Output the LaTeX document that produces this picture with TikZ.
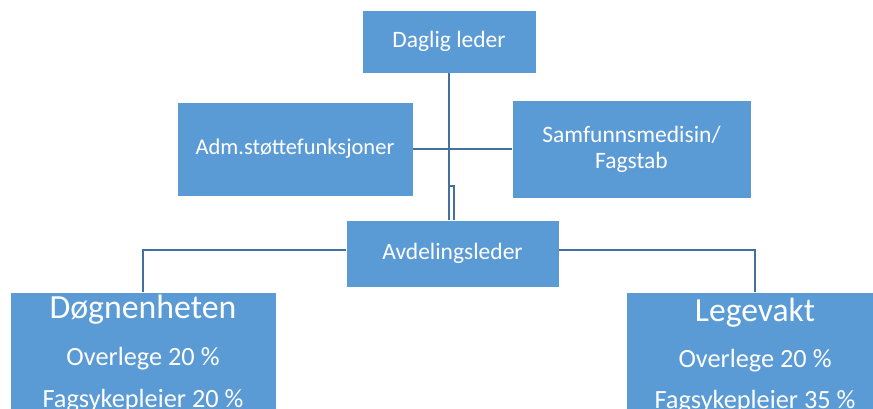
\documentclass[tikz,border=0pt]{standalone}
\usepackage{fontspec}
\setmainfont{Carlito}
\definecolor{boxblue}{RGB}{91,155,213}
\definecolor{lineblue}{RGB}{65,113,156}
\tikzset{
orgbox/.style={
	fill=boxblue,
	draw=white,
	line width=0.4pt,
	text=white,
	inner sep=0pt,
	align=center,
	font=\fontsize{23.5}{26}\selectfont
}
}
\tikzset{
unitbox/.style={
	fill=boxblue,
	draw=white,
	line width=0.4pt,
	inner sep=0pt,
	anchor=north west,
	minimum width=266pt,
	minimum height=140pt
}
}
\tikzset{
conn/.style={
	draw=lineblue,
	line width=2pt
}
}
\tikzset{
unittext/.style={
	text=white,
	anchor=base,
	inner sep=0pt,
	font=\fontsize{26.3}{30}\selectfont
}
}

\begin{document}
\begin{tikzpicture}[x=1pt,y=-1pt]
		\path[use as bounding box,clip] (0,0) rectangle (873,409);
		\node[orgbox,minimum width=174pt,minimum height=63pt] (daglig) at (449,41.5) {Daglig leder};
		\node[orgbox,minimum width=236pt,minimum height=94pt,font=\fontsize{22.5}{26}\selectfont] (adm) at (295,149) {Adm.støttefunksjoner};
		\node[orgbox,minimum width=239pt,minimum height=98pt] (samf) at (631.5,149) {Samfunnsmedisin/\\Fagstab};
		\node[orgbox,minimum width=213pt,minimum height=67pt] (avd) at (452.5,253.5) {Avdelingsleder};
		\node[unitbox] (dogn) at (10,292) {};
		\node[unitbox,minimum width=258pt] (lege) at (626,292) {};
		\node[unittext,font=\fontsize{33.8}{38}\selectfont] (dognnavn) at (143,318) {Døgnenheten};
		\node[unittext] (dognlege) at (143,365) {Overlege 20 \%};
		\node[unittext] (dognsykepl) at (143,407) {Fagsykepleier 20 \%};
		\node[unittext,font=\fontsize{33.6}{38}\selectfont] (legenavn) at (755,321) {Legevakt};
		\node[unittext] (legelege) at (755,367) {Overlege 20 \%};
		\node[unittext] (legesykepl) at (755,408) {Fagsykepleier 35 \%};
		\coordinate (assist) at (454,186);
		\draw[conn] (daglig.south) -- (daglig.south |- avd.north);
		\draw[conn] (daglig.south |- assist) -- (assist) -- (assist |- avd.north);
		\draw[conn] (adm.east) -- (samf.west);
		\draw[conn] ([yshift=3.5pt]avd.west) -| (dogn.north);
		\draw[conn] ([yshift=3.5pt]avd.east) -| (lege.north);
\end{tikzpicture}
\end{document}
